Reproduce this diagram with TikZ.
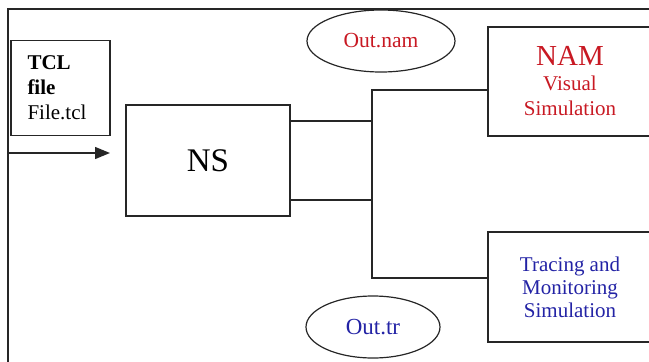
\documentclass[tikz,border=0pt]{standalone}
\usepackage{fontspec}
\setmainfont{Liberation Serif}
\usetikzlibrary{arrows.meta,shapes.geometric}
\definecolor{namred}{RGB}{200,25,35}
\definecolor{trblue}{RGB}{35,35,165}
\begin{document}
\begin{tikzpicture}[x=1pt,y=-1pt,>={Triangle[length=15pt,width=12pt]},
    box/.style={draw=black!85,line width=1.3pt,rectangle,inner sep=0pt},
    oval/.style={draw=black!85,line width=1.2pt,ellipse,inner sep=0pt},
    wire/.style={black!85,line width=1.3pt}]
  \useasboundingbox (0,0) rectangle (649,362);
  \clip (0,0) rectangle (649,362);
  % outer frame, cut off at the right and bottom
  \draw [line width=2pt,black!85] (8,370) -- (8,9) -- (660,9);
  % boxes
  \node [box,minimum width=99pt,minimum height=95pt,align=left,text width=66pt,
         font=\fontsize{21}{25}\selectfont] (tcl) at (60.5,88)
        {\textbf{TCL}\\\textbf{file}\\File.tcl};
  \node [box,minimum width=164pt,minimum height=111pt,
         font=\fontsize{33}{36}\selectfont] (ns) at (208,160.5) {NS};
  \node [box,minimum width=164pt,minimum height=109pt,align=center,text=namred,
         font=\fontsize{21}{25}\selectfont] (nam) at (570,81.5)
        {{\fontsize{29}{25}\selectfont NAM}\\Visual\\Simulation};
  \node [box,minimum width=164pt,minimum height=110pt,align=center,text=trblue,
         font=\fontsize{21}{23}\selectfont] (trace) at (570,287)
        {Tracing and\\Monitoring\\Simulation};
  % output files
  \node [oval,minimum width=148pt,minimum height=62pt,text=namred,
         font=\fontsize{21.5}{24}\selectfont] (outnam) at (381,41) {Out.nam};
  \node [oval,minimum width=134pt,minimum height=62pt,text=trblue,
         font=\fontsize{23}{24}\selectfont] (outtr) at (373,327) {Out.tr};
  % input arrow
  \coordinate (in) at (8,153);
  \coordinate (tip) at (110,153);
  \draw [wire,->] (in) -- (tip);
  % split to the two viewers
  \coordinate (jtop) at (372,90);
  \coordinate (jbot) at (372,278);
  \coordinate (nsup) at ([yshift=39.5pt]ns.east);
  \coordinate (nsdn) at ([yshift=-39.5pt]ns.east);
  \draw [wire] (nsup) -- (nsup -| jtop);
  \draw [wire] (nsdn) -- (nsdn -| jtop);
  \draw [wire] ([yshift=-8.5pt]nam.west) -- (jtop) -- (jbot) -- ([yshift=9pt]trace.west);
\end{tikzpicture}
\end{document}
